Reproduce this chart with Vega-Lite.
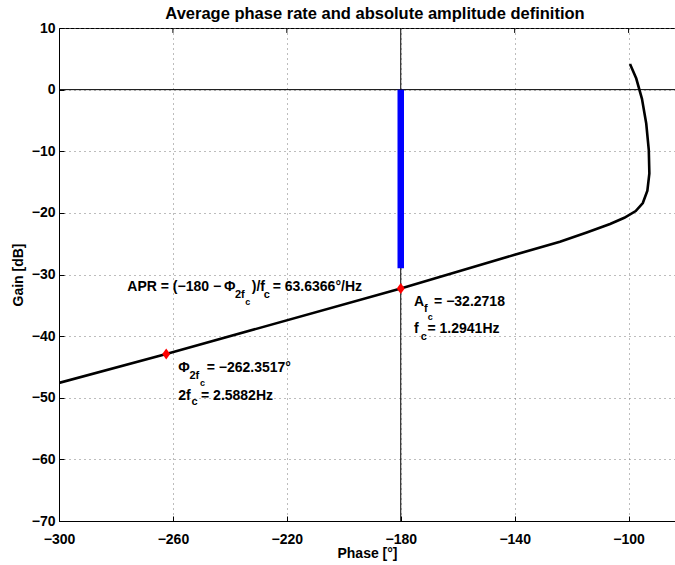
{
  "$schema": "https://vega.github.io/schema/vega-lite/v6.json",
  "width": 616,
  "height": 493,
  "autosize": {"type": "none"},
  "padding": {"left": 59, "top": 28, "right": 0, "bottom": 44},
  "background": "white",
  "title": {
    "text": "Average phase rate and absolute amplitude definition",
    "font": "Liberation Sans",
    "fontSize": 16.5,
    "fontWeight": "bold",
    "color": "black",
    "baseline": "alphabetic",
    "offset": 0,
    "dx": 8,
    "dy": 14
  },
  "config": {
    "view": {"stroke": "black", "strokeWidth": 1},
    "axis": {
      "labelFont": "Liberation Sans",
      "labelFontSize": 14,
      "labelFontWeight": "bold",
      "labelColor": "black",
      "titleFont": "Liberation Sans",
      "titleFontSize": 14,
      "titleFontWeight": "bold",
      "titleColor": "black",
      "domainColor": "black",
      "domainWidth": 1,
      "tickColor": "black",
      "tickSize": -5,
      "gridColor": "#7a7a7a",
      "gridDash": [1, 4],
      "gridWidth": 1,
      "gridOpacity": 1,
      "labelFlush": false,
      "labelOverlap": false
    },
    "axisX": {"labelPadding": 16, "titlePadding": 0},
    "axisY": {"labelPadding": 9, "titlePadding": 6}
  },
  "datasets": {
    "curve": [
      {"i": 1, "phase": -300.0, "gain": -47.6},
      {"i": 2, "phase": -262.35, "gain": -42.9},
      {"i": 3, "phase": -180.0, "gain": -32.27},
      {"i": 4, "phase": -140.0, "gain": -26.8},
      {"i": 5, "phase": -124.1, "gain": -24.7},
      {"i": 6, "phase": -114.7, "gain": -23.2},
      {"i": 7, "phase": -106.5, "gain": -21.8},
      {"i": 8, "phase": -101.5, "gain": -20.8},
      {"i": 9, "phase": -97.5, "gain": -19.7},
      {"i": 10, "phase": -95.0, "gain": -18.4},
      {"i": 11, "phase": -93.4, "gain": -16.4},
      {"i": 12, "phase": -92.7, "gain": -13.6},
      {"i": 13, "phase": -92.9, "gain": -9.8},
      {"i": 14, "phase": -93.8, "gain": -5.5},
      {"i": 15, "phase": -95.3, "gain": -1.5},
      {"i": 16, "phase": -97.3, "gain": 1.8},
      {"i": 17, "phase": -99.5, "gain": 4.16}
    ],
    "markers": [
      {"phase": -180.0, "gain": -32.2718},
      {"phase": -262.3517, "gain": -42.9}
    ],
    "topTicks": [
      {"p": -260, "g1": 10, "g2": 9.2},
      {"p": -220, "g1": 10, "g2": 9.2},
      {"p": -140, "g1": 10, "g2": 9.2},
      {"p": -100, "g1": 10, "g2": 9.2}
    ],
    "mainText": [
      {"phase": -276.0, "gain": -32.08, "t": "APR = (−180 −"},
      {"phase": -242.05, "gain": -32.08, "t": "Φ"},
      {"phase": -232.3, "gain": -32.08, "t": ")/f"},
      {"phase": -224.95, "gain": -32.08, "t": "= 63.6366°/Hz"},
      {"phase": -258.1, "gain": -45.22, "t": "Φ"},
      {"phase": -248.13, "gain": -45.22, "t": "= −262.3517°"},
      {"phase": -258.1, "gain": -49.72, "t": "2f"},
      {"phase": -250.13, "gain": -49.72, "t": "= 2.5882Hz"},
      {"phase": -175.33, "gain": -34.41, "t": "A"},
      {"phase": -168.3, "gain": -34.41, "t": "= −32.2718"},
      {"phase": -175.33, "gain": -38.9, "t": "f"},
      {"phase": -170.6, "gain": -38.9, "t": "= 1.2941Hz"}
    ],
    "subText": [
      {"phase": -238.2, "gain": -33.33, "t": "2f"},
      {"phase": -228.1, "gain": -33.33, "t": "c"},
      {"phase": -254.2, "gain": -46.47, "t": "2f"},
      {"phase": -253.5, "gain": -50.64, "t": "c"},
      {"phase": -171.8, "gain": -35.65, "t": "f"},
      {"phase": -172.97, "gain": -40.09, "t": "c"}
    ],
    "subsubText": [
      {"phase": -234.6, "gain": -34.5, "t": "c"},
      {"phase": -250.5, "gain": -47.56, "t": "c"},
      {"phase": -170.5, "gain": -36.85, "t": "c"}
    ]
  },
  "layer": [
    {
      "data": {"name": "curve"},
      "mark": {"type": "line", "color": "black", "strokeWidth": 2.6, "clip": true},
      "encoding": {
        "x": {
          "field": "phase", "type": "quantitative",
          "scale": {"domain": [-300, -83.7], "nice": false, "zero": false},
          "axis": {"values": [-300, -260, -220, -180, -140, -100], "title": "Phase [°]", "grid": true}
        },
        "y": {
          "field": "gain", "type": "quantitative",
          "scale": {"domain": [-70, 10], "nice": false, "zero": false},
          "axis": {"values": [-70, -60, -50, -40, -30, -20, -10, 0, 10], "title": "Gain [dB]", "grid": true}
        },
        "order": {"field": "i", "type": "quantitative"}
      }
    },
    {
      "data": {"values": [{"g": 0}]},
      "mark": {"type": "rule", "color": "black", "strokeWidth": 1},
      "encoding": {
        "y": {"field": "g", "type": "quantitative"}
      }
    },
    {
      "data": {"values": [{"p": -180}]},
      "mark": {"type": "rule", "color": "black", "strokeWidth": 1},
      "encoding": {
        "x": {"field": "p", "type": "quantitative"}
      }
    },
    {
      "data": {"name": "topTicks"},
      "mark": {"type": "rule", "color": "black", "strokeWidth": 1},
      "encoding": {
        "x": {"field": "p", "type": "quantitative"},
        "y": {"field": "g1", "type": "quantitative"},
        "y2": {"field": "g2"}
      }
    },
    {
      "data": {"values": [{"p": -180, "g1": 0, "g2": -29}]},
      "mark": {"type": "rule", "color": "#0000ff", "strokeWidth": 6.5, "strokeCap": "butt"},
      "encoding": {
        "x": {"field": "p", "type": "quantitative"},
        "y": {"field": "g1", "type": "quantitative"},
        "y2": {"field": "g2"}
      }
    },
    {
      "data": {"name": "markers"},
      "mark": {"type": "point", "shape": "M0,-1L0.72,0L0,1L-0.72,0Z", "size": 121, "filled": true, "color": "#ff0000", "opacity": 1},
      "encoding": {
        "x": {"field": "phase", "type": "quantitative"},
        "y": {"field": "gain", "type": "quantitative"}
      }
    },
    {
      "data": {"name": "mainText"},
      "mark": {"type": "text", "align": "left", "baseline": "middle", "font": "Liberation Sans", "fontSize": 14, "fontWeight": "bold", "color": "black"},
      "encoding": {
        "x": {"field": "phase", "type": "quantitative"},
        "y": {"field": "gain", "type": "quantitative"},
        "text": {"field": "t"}
      }
    },
    {
      "data": {"name": "subText"},
      "mark": {"type": "text", "align": "left", "baseline": "middle", "font": "Liberation Sans", "fontSize": 11, "fontWeight": "bold", "color": "black"},
      "encoding": {
        "x": {"field": "phase", "type": "quantitative"},
        "y": {"field": "gain", "type": "quantitative"},
        "text": {"field": "t"}
      }
    },
    {
      "data": {"name": "subsubText"},
      "mark": {"type": "text", "align": "left", "baseline": "middle", "font": "Liberation Sans", "fontSize": 9, "fontWeight": "bold", "color": "black"},
      "encoding": {
        "x": {"field": "phase", "type": "quantitative"},
        "y": {"field": "gain", "type": "quantitative"},
        "text": {"field": "t"}
      }
    }
  ]
}
